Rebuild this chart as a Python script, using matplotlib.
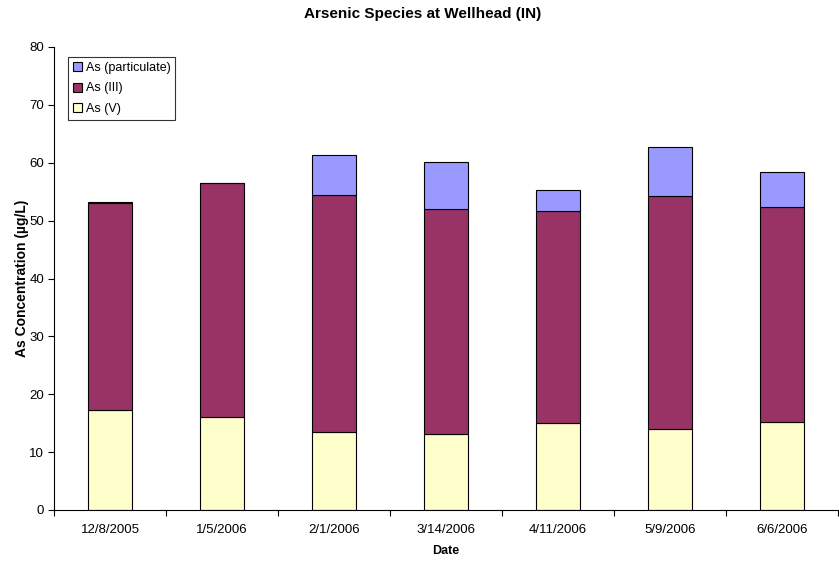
import matplotlib
matplotlib.use("Agg")
import matplotlib.pyplot as plt
import numpy as np

plt.rcParams['font.family'] = ['Liberation Sans', 'DejaVu Sans']

dates = ["12/8/2005", "1/5/2006", "2/1/2006", "3/14/2006", "4/11/2006", "5/9/2006", "6/6/2006"]
as_v = [17.3, 16.1, 13.5, 13.1, 15.0, 14.0, 15.2]
as_iii = [35.7, 40.4, 40.9, 38.9, 36.6, 40.2, 37.1]
as_part = [0.3, 0.0, 7.0, 8.2, 3.7, 8.5, 6.1]

fig = plt.figure(figsize=(8.39, 5.62), dpi=100)
ax = fig.add_axes([54/839, 1 - 510/562, (838 - 54)/839, (510 - 47)/562])

x = np.arange(len(dates))
w = 0.4
v = np.array(as_v); iii = np.array(as_iii); p = np.array(as_part)
b1 = ax.bar(x, v, w, color="#FFFFCC", edgecolor="black", linewidth=0.8, label="As (V)")
b2 = ax.bar(x, iii, w, bottom=v, color="#993366", edgecolor="black", linewidth=0.8, label="As (III)")
b3 = ax.bar(x, p, w, bottom=v + iii, color="#9999FF", edgecolor="black", linewidth=0.8, label="As (particulate)")

ax.set_xlim(-0.5, len(dates) - 0.5)
ax.set_ylim(0, 80)
ax.set_yticks(np.arange(0, 81, 10))
ax.set_xticks(x)
ax.set_xticklabels(dates, fontsize=9.5)
ax.set_xticks(np.arange(-0.5, len(dates), 1), minor=True)
ax.tick_params(axis='x', which='major', length=0, pad=9.8)
ax.tick_params(axis='x', which='minor', length=4, direction='out', width=0.8)
ax.tick_params(axis='y', labelsize=9.5, length=4, direction='out', width=0.8, pad=3)
for s in ['top', 'right']:
    ax.spines[s].set_visible(False)
ax.spines['left'].set_linewidth(0.8)
ax.spines['bottom'].set_linewidth(0.8)

ax.set_xlabel("Date", fontsize=9, fontweight='bold', labelpad=6.5)
ax.set_ylabel("As Concentration (µg/L)", fontsize=10, fontweight='bold', labelpad=0)
fig.text(423/839, 1 - 14/562, "Arsenic Species at Wellhead (IN)", ha='center', va='center',
         fontsize=11, fontweight='bold')

leg = ax.legend(handles=[b3, b2, b1], loc='upper left', bbox_to_anchor=(14/784, 1 - 10/463),
                fontsize=9, frameon=True, fancybox=False, edgecolor='black',
                handlelength=0.7, handleheight=0.7, handletextpad=0.3, borderpad=0.4,
                labelspacing=0.68, borderaxespad=0)
leg.get_frame().set_linewidth(0.8)

fig.savefig("out.png", dpi=100)
